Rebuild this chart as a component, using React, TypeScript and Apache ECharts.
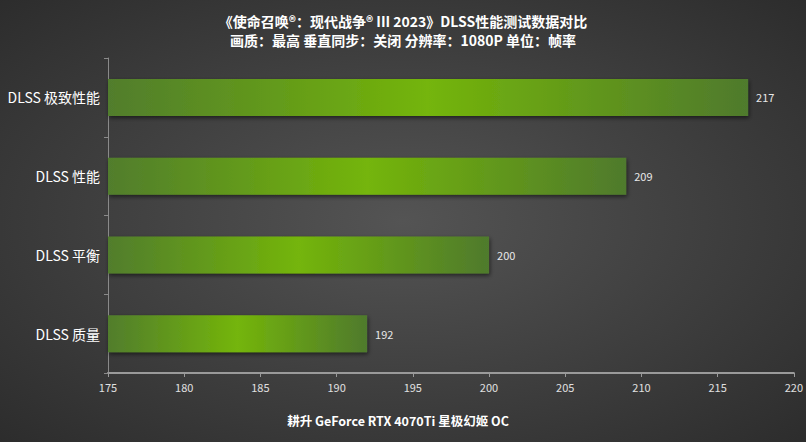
import React, { useEffect, useRef } from "react";
import * as echarts from "echarts";

const categories = ["DLSS 质量", "DLSS 平衡", "DLSS 性能", "DLSS 极致性能"];
const fpsValues = [192, 200, 209, 217];
const titleLines = ["《使命召唤®：现代战争® III 2023》DLSS性能测试数据对比", "画质：最高 垂直同步：关闭 分辨率：1080P 单位：帧率"];
const xAxisName = "耕升 GeForce RTX 4070Ti 星极幻姬 OC";
const xMin = 175;
const xMax = 220;
const xInterval = 5;

const FONT = "'Noto Sans CJK SC', 'Noto Sans', sans-serif";

export default function App() {
  const ref = useRef<HTMLDivElement>(null);
  useEffect(() => {
    if (!ref.current) return;
    const chart = echarts.init(ref.current, null, { renderer: "svg" });
    const barGrad = new echarts.graphic.LinearGradient(0, 0, 1, 0, [
      { offset: 0, color: "#517d2d" },
      { offset: 0.5, color: "#74b50a" },
      { offset: 1, color: "#4f7a2d" },
    ]);
    chart.setOption({
      animation: false,
      backgroundColor: new echarts.graphic.RadialGradient(0.5, 0.5, 0.75, [
        { offset: 0, color: "#545454" },
        { offset: 1, color: "#2a2a2a" },
      ]),
      title: {
        text: titleLines.join("\n"),
        left: "center",
        top: 6,
        textStyle: {
          color: "#ffffff",
          fontFamily: FONT,
          fontWeight: "bold",
          fontSize: 14,
          lineHeight: 19,
        },
      },
      graphic: [
        {
          type: "text",
          x: 398,
          y: 420,
          style: {
            text: xAxisName,
            fill: "#ffffff",
            font: `bold 12.5px ${FONT}`,
            textAlign: "center",
            textVerticalAlign: "middle",
          },
        },
      ],
      grid: { left: 108, right: 8, top: 58, bottom: 69, containLabel: false },
      xAxis: {
        type: "value",
        min: xMin,
        max: xMax,
        interval: xInterval,
        axisLine: { show: true, lineStyle: { color: "#9a9a9a", width: 2 } },
        axisTick: { show: true, length: 4, lineStyle: { color: "#9a9a9a" } },
        axisLabel: { color: "#e0e0e0", fontFamily: FONT, fontSize: 11, margin: 8 },
        splitLine: { show: false },
      },
      yAxis: {
        type: "category",
        data: categories,
        axisLine: { show: true, lineStyle: { color: "#8a8a8a", width: 1 } },
        axisTick: { show: true, length: 4, lineStyle: { color: "#8a8a8a" } },
        axisLabel: { color: "#ffffff", fontFamily: FONT, fontSize: 14, margin: 8 },
      },
      series: [
        {
          type: "bar",
          data: fpsValues,
          barWidth: 37,
          itemStyle: {
            color: barGrad,
            shadowColor: "rgba(0,0,0,0.55)",
            shadowBlur: 4,
            shadowOffsetY: 2,
            shadowOffsetX: 1,
          },
          label: {
            show: true,
            position: "right",
            distance: 8,
            color: "#e8e8e8",
            fontFamily: FONT,
            fontSize: 11,
          },
        },
      ],
    });
    return () => chart.dispose();
  }, []);
  return <div ref={ref} style={{ width: 806, height: 442, position: "absolute", left: 0, top: 0 }} />;
}
